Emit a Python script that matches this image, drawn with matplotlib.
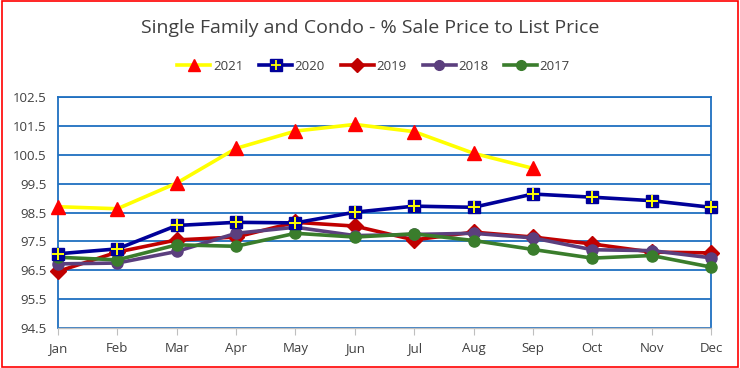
import numpy as np
import matplotlib
matplotlib.use("Agg")
import matplotlib.pyplot as plt
from matplotlib.lines import Line2D
from matplotlib.legend_handler import HandlerTuple
from matplotlib.patches import Rectangle

plt.rcParams['font.family'] = ['Open Sans', 'DejaVu Sans']

months = ['Jan', 'Feb', 'Mar', 'Apr', 'May', 'Jun', 'Jul', 'Aug', 'Sep', 'Oct', 'Nov', 'Dec']
y2021 = [98.70, 98.63, 99.52, 100.72, 101.32, 101.55, 101.30, 100.55, 100.03]
y2020 = [97.07, 97.24, 98.05, 98.16, 98.14, 98.51, 98.72, 98.68, 99.14, 99.03, 98.91, 98.68]
y2019 = [96.46, 97.13, 97.55, 97.65, 98.16, 98.03, 97.55, 97.82, 97.65, 97.41, 97.13, 97.10]
y2018 = [96.72, 96.75, 97.15, 97.78, 97.99, 97.70, 97.74, 97.78, 97.62, 97.21, 97.18, 96.93]
y2017 = [96.95, 96.86, 97.38, 97.33, 97.78, 97.65, 97.76, 97.53, 97.22, 96.92, 97.01, 96.61]
yticks = [94.5, 95.5, 96.5, 97.5, 98.5, 99.5, 100.5, 101.5, 102.5]

fig = plt.figure(figsize=(7.4, 3.68), dpi=100)
fig.patches.append(Rectangle((0.003, 0.004), 0.994, 0.992, transform=fig.transFigure,
                             fill=False, edgecolor='#FF0000', linewidth=1.2))
ax = fig.add_axes([0.0784, 0.1087, 0.8824, 0.6277])

x = np.arange(len(months))
lw = 2.6

ax.plot(x[:len(y2021)], y2021, color='#FFFF00', lw=lw, marker='^', ms=10,
        mfc='#FF0000', mec='#FF0000', zorder=3, clip_on=False)
ax.plot(x, y2020, color='#000099', lw=lw, marker='s', ms=9,
        mfc='#000099', mec='#000099', zorder=4, clip_on=False)
ax.plot(x, y2020, ls='none', marker='+', ms=8, mew=1.4, color='#FFFF00', zorder=4.1, clip_on=False)
ax.plot(x, y2019, color='#C00000', lw=lw, marker='D', ms=8,
        mfc='#C00000', mec='#C00000', zorder=3, clip_on=False)
ax.plot(x, y2018, color='#5B3F7E', lw=lw, marker='o', ms=8,
        mfc='#5B3F7E', mec='#5B3F7E', zorder=3, clip_on=False)
ax.plot(x, y2017, color='#3A7D2C', lw=lw, marker='o', ms=8,
        mfc='#3A7D2C', mec='#3A7D2C', zorder=3, clip_on=False)

ax.set_xlim(0, 11)
ax.set_ylim(94.5, 102.5)
ax.set_yticks(yticks)
ax.set_yticklabels([f'{v:.1f}' for v in yticks])
ax.set_xticks(x)
ax.set_xticklabels(months)
ax.grid(axis='y', color='#1F6FC0', lw=1.3)
ax.set_axisbelow(True)
for s in ['left', 'top', 'right']:
    ax.spines[s].set_color('#1F6FC0')
    ax.spines[s].set_linewidth(1.3)
ax.spines['bottom'].set_color('#BFBFBF')
ax.spines['bottom'].set_linewidth(1.0)
ax.tick_params(axis='y', length=0, labelsize=9.5, colors='#404040', pad=8)
ax.tick_params(axis='x', length=5, color='#BFBFBF', labelsize=9.5, labelcolor='#404040', pad=5)

fig.text(0.5, 0.925, 'Single Family and Condo - % Sale Price to List Price',
         ha='center', va='center', fontsize=14, color='#404040')

h2021 = Line2D([], [], color='#FFFF00', lw=lw, marker='^', ms=9, mfc='#FF0000', mec='#FF0000')
h2020a = Line2D([], [], color='#000099', lw=lw, marker='s', ms=8, mfc='#000099', mec='#000099')
h2020b = Line2D([], [], ls='none', marker='+', ms=7, mew=1.3, color='#FFFF00')
h2019 = Line2D([], [], color='#C00000', lw=lw, marker='D', ms=7, mfc='#C00000', mec='#C00000')
h2018 = Line2D([], [], color='#5B3F7E', lw=lw, marker='o', ms=7, mfc='#5B3F7E', mec='#5B3F7E')
h2017 = Line2D([], [], color='#3A7D2C', lw=lw, marker='o', ms=7, mfc='#3A7D2C', mec='#3A7D2C')
fig.legend([h2021, (h2020a, h2020b), h2019, h2018, h2017],
           ['2021', '2020', '2019', '2018', '2017'],
           handler_map={tuple: HandlerTuple(ndivide=1, pad=0)},
           loc='center', bbox_to_anchor=(0.505, 0.82), ncol=5, frameon=False,
           fontsize=9.5, handlelength=2.5, handletextpad=0.2, columnspacing=1.2,
           labelcolor='#404040')

fig.savefig('out.png', dpi=100)
